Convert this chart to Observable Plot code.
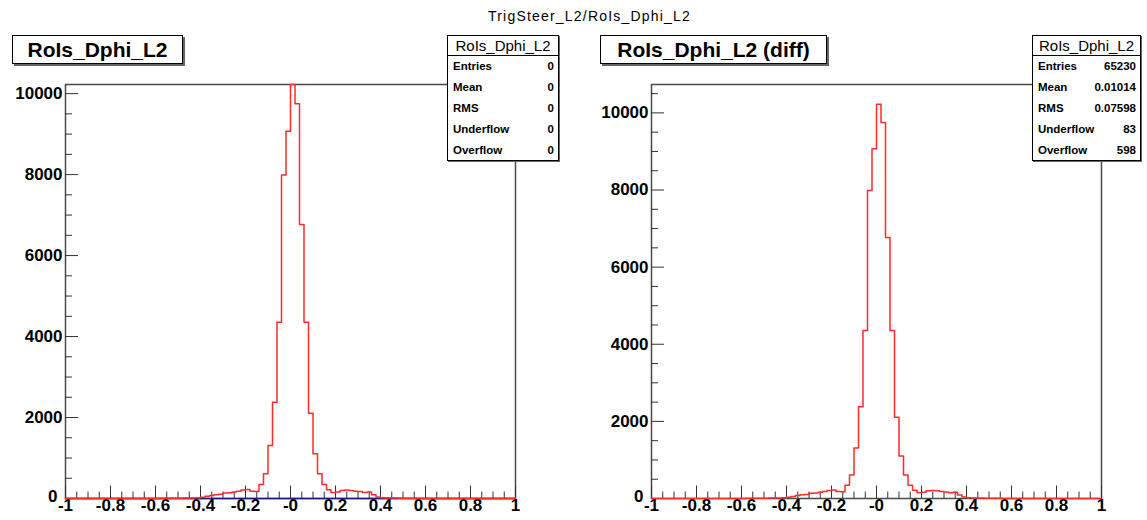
<!DOCTYPE html>
<html><head><meta charset="utf-8">
<script src="https://cdn.jsdelivr.net/npm/d3@7"></script>
<script src="https://cdn.jsdelivr.net/npm/@observablehq/plot@0.6"></script>
<style>
body{margin:0;background:#fff;font-family:"Liberation Sans",Arial,sans-serif;}
#root{position:relative;width:1147px;height:520px;overflow:hidden;background:#fff}
.panel{position:absolute;top:0}
.title{position:absolute;top:8px;left:16px;width:1147px;text-align:center;font-size:14px;letter-spacing:1.2px;color:#000}
.tbox{position:absolute;top:35px;height:27px;border:1px solid #000;box-shadow:2px 2px 0 #666;background:#fff;font-weight:bold;font-size:21px;line-height:28px;text-align:center;color:#000}
.stats{position:absolute;top:35px;height:124px;border:1px solid #000;background:#fff;box-shadow:1px 1px 0 #666;color:#000}
.stats .hd{height:19px;border-bottom:1px solid #000;text-align:center;font-size:15px;line-height:20px}
.stats .row{height:21px;display:flex;justify-content:space-between;padding:0 4px 0 5px;font-size:11.5px;font-weight:bold;line-height:21px}
</style></head>
<body><div id="root"></div>
<script>
// ---- data ----
const pageTitle = "TrigSteer_L2/RoIs_Dphi_L2";
const histName = "RoIs_Dphi_L2";
const panelTitles = ["RoIs_Dphi_L2", "RoIs_Dphi_L2 (diff)"];
const binLo = -1, binHi = 1;
// 100 bins of width 0.02 between -1 and 1
const counts = [
  0,0,0,0,0,0,0,0,0,0,
  0,0,0,0,0,0,0,0,0,0,
  3,4,5,6,8,9,10,12,15,20,
  30,55,75,95,105,135,145,160,180,210,
  220,180,175,345,610,1310,2380,4356,7990,9070,
  10225,9750,6770,4356,2108,1105,610,346,215,150,
  160,200,210,200,180,170,150,160,90,40,
  20,14,12,10,8,6,5,4,3,2,
  0,0,0,0,0,0,0,0,0,0,
  0,0,0,0,0,0,0,0,0,0
];
const refCounts = 0; // reference histogram is empty (Entries 0)
const xTickValues = [-1,-0.8,-0.6,-0.4,-0.2,0,0.2,0.4,0.6,0.8,1];
const xTickLabels = ["-1","-0.8","-0.6","-0.4","-0.2","-0","0.2","0.4","0.6","0.8","1"];
const yTickValues = [0,2000,4000,6000,8000,10000];
const yTickLabels = ["0","2000","4000","6000","8000","10000"];
const statNames = ["Entries","Mean","RMS","Underflow","Overflow"];
const statsLeft = ["0","0","0","0","0"];
const statsRight = ["65230","0.01014","0.07598","83","598"];

// ---- build ----
const root = document.getElementById("root");
const W = (binHi - binLo) / counts.length;
const stepPts = counts.map((c, i) => ({x: binLo + i * W, y: c}));
stepPts.push({x: binHi, y: counts[counts.length - 1]});
const peak = d3.max(counts);

const xMinor = d3.range(-20, 21).map(k => k * 0.05).filter(v => Math.abs(Math.round(v * 5) - v * 5) > 1e-6);
const font = "Liberation Sans, Arial, sans-serif";
const yLab = yTickValues.map((v, i) => ({v, t: yTickLabels[i]}));

function panel({width, marginRight, ymax, showRef}) {
  const mT = 84, mB = 22, mL = 65, H = 520;
  const fh = H - mT - mB, fw = width - mL - marginRight;
  const yMinor = d3.range(0, ymax, 500).filter(v => v % 2000 !== 0);
  const lab = {fontSize: 17, fontWeight: "bold", fontFamily: font, fill: "#000"};
  const marks = [
    Plot.frame({stroke: "#4a4a4a", strokeWidth: 1.5}),
    Plot.tickX(xMinor, {x: d => d, stroke: "#333", insetTop: fh - 6.5}),
    Plot.tickX(xTickValues, {x: d => d, stroke: "#333", insetTop: fh - 12.5}),
    Plot.tickY(yMinor, {y: d => d, stroke: "#333", insetRight: fw - 7}),
    Plot.tickY(yTickValues, {y: d => d, stroke: "#333", insetRight: fw - 13}),
    Plot.text(xTickValues, {x: d => d, text: (d, i) => xTickLabels[i], frameAnchor: "bottom", dy: 12, ...lab}),
    Plot.text(yLab.filter(d => d.v !== 0), {y: "v", text: "t", frameAnchor: "left", dx: -3, textAnchor: "end", ...lab}),
    Plot.text(yLab.filter(d => d.v === 0), {y: "v", text: "t", frameAnchor: "left", dx: -8, dy: -2, textAnchor: "end", ...lab})
  ];
  if (showRef) marks.push(Plot.ruleY([refCounts], {stroke: "#1c1c78", strokeWidth: 1.6}));
  marks.push(Plot.line(stepPts, {x: "x", y: "y", curve: "step-after", stroke: "#ff2a2a", strokeWidth: 1.5}));
  return Plot.plot({
    width, height: H, marginLeft: mL, marginRight, marginTop: mT, marginBottom: mB,
    x: {domain: [binLo, binHi], axis: null},
    y: {domain: [0, ymax], axis: null},
    style: {fontFamily: font, background: "transparent", overflow: "visible"},
    marks
  });
}

const left = panel({width: 580, marginRight: 65, ymax: peak, showRef: true});
left.classList.add("panel"); left.style.left = "0px";
root.appendChild(left);
const right = panel({width: 561, marginRight: 46, ymax: peak * 1.05, showRef: false});
right.classList.add("panel"); right.style.left = "586px";
root.appendChild(right);

function addDiv(cls, css, html) {
  const d = document.createElement("div");
  d.className = cls; Object.assign(d.style, css); d.innerHTML = html; root.appendChild(d); return d;
}
addDiv("title", {}, pageTitle);
addDiv("tbox", {left: "12px", width: "169px"}, panelTitles[0]);
addDiv("tbox", {left: "600px", width: "225px"}, panelTitles[1]);
function stats(leftPx, widthPx, vals) {
  let h = `<div class="hd">${histName}</div>`;
  statNames.forEach((n, i) => { h += `<div class="row"><span>${n}</span><span>${vals[i]}</span></div>`; });
  addDiv("stats", {left: leftPx + "px", width: widthPx + "px"}, h);
}
stats(447, 110, statsLeft);
stats(1032, 107, statsRight);
</script>
</body></html>
